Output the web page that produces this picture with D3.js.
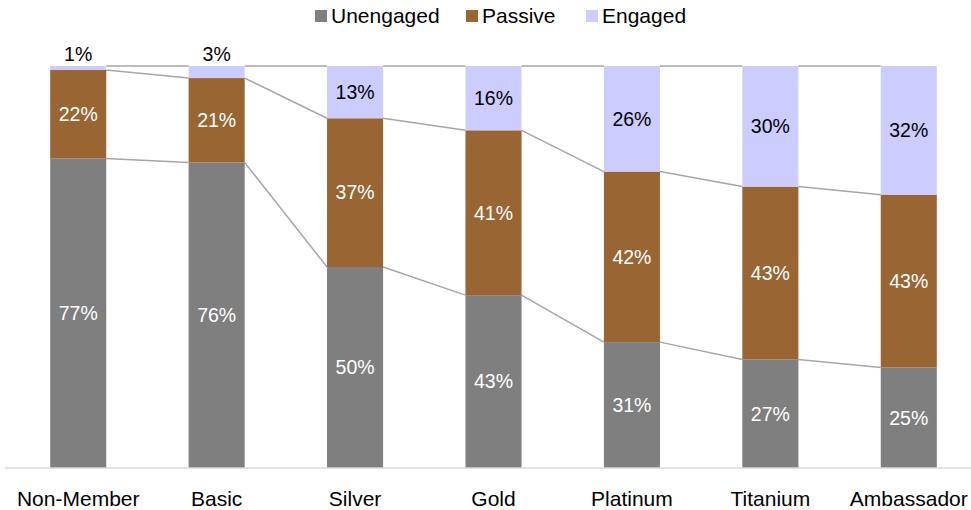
<!DOCTYPE html>
<html>
<head>
<meta charset="utf-8">
<script src="https://cdn.jsdelivr.net/npm/d3@7"></script>
<style>
  body { margin: 0; background: #fff; }
  text { font-family: "Liberation Sans", Arial, sans-serif; }
</style>
</head>
<body>
<script>
var categories = ["Non-Member", "Basic", "Silver", "Gold", "Platinum", "Titanium", "Ambassador"];
var seriesNames = ["Unengaged", "Passive", "Engaged"];
var unengaged = [77, 76, 50, 43, 31, 27, 25];
var passive = [22, 21, 37, 41, 42, 43, 43];
var engaged = [1, 3, 13, 16, 26, 30, 32];
var colors = ["#7f7f7f", "#996633", "#ccccff"];
var labelColors = ["#fff", "#fff", "#000"];

var width = 971, height = 510;
var margin = {left: 9, right: -7, top: 66, bottom: 42};

var rows = categories.map(function(c, i){
  return {cat: c, Unengaged: unengaged[i], Passive: passive[i], Engaged: engaged[i]};
});

var stack = d3.stack().keys(seriesNames).offset(d3.stackOffsetExpand);
var layers = stack(rows);

var x = d3.scaleBand()
  .domain(categories)
  .range([margin.left, width - margin.right])
  .paddingInner(0.595)
  .paddingOuter(0.2975);

var y = d3.scaleLinear()
  .domain([0, 1])
  .range([height - margin.bottom, margin.top]);

var svg = d3.select("body").append("svg")
  .attr("width", width).attr("height", height);

// series lines between bars
var lineG = svg.append("g");
layers.forEach(function(layer){
  for (var i = 0; i < layer.length - 1; i++){
    lineG.append("line")
      .attr("x1", x(categories[i]) + x.bandwidth())
      .attr("x2", x(categories[i + 1]))
      .attr("y1", y(layer[i][1]))
      .attr("y2", y(layer[i + 1][1]))
      .attr("stroke", "#a6a6a6")
      .attr("stroke-width", 1.5);
  }
});

// bars
layers.forEach(function(layer, k){
  svg.append("g").selectAll("rect")
    .data(layer)
    .enter().append("rect")
    .attr("x", function(d){ return x(d.data.cat); })
    .attr("y", function(d){ return y(d[1]); })
    .attr("width", x.bandwidth())
    .attr("height", function(d){ return y(d[0]) - y(d[1]); })
    .attr("fill", colors[k]);
});

// value labels
layers.forEach(function(layer, k){
  svg.append("g").selectAll("text")
    .data(layer)
    .enter().append("text")
    .attr("x", function(d){ return x(d.data.cat) + x.bandwidth() / 2; })
    .attr("y", function(d){
      var h = y(d[0]) - y(d[1]);
      if (h < 20) return y(d[1]) - 5;
      return (y(d[0]) + y(d[1])) / 2;
    })
    .attr("dy", function(d){ return (y(d[0]) - y(d[1])) < 20 ? "0" : "0.35em"; })
    .attr("text-anchor", "middle")
    .attr("font-size", "19.5px")
    .attr("fill", labelColors[k])
    .text(function(d){ return d.data[seriesNames[k]] + "%"; });
});

// x axis
var xAxis = d3.axisBottom(x).tickSize(0).tickPadding(23);
var axisG = svg.append("g")
  .attr("transform", "translate(0," + y(0) + ")")
  .call(xAxis);
axisG.select(".domain").remove();
axisG.append("line")
  .attr("x1", 5).attr("x2", width)
  .attr("stroke", "#d9d9d9").attr("stroke-width", 1.5);
axisG.selectAll("text")
  .attr("font-size", "21px")
  .attr("font-family", "Liberation Sans, Arial, sans-serif")
  .attr("fill", "#000");

// legend
var legendX = [315, 466, 586];
var legend = svg.append("g");
seriesNames.forEach(function(s, k){
  legend.append("rect")
    .attr("x", legendX[k]).attr("y", 10)
    .attr("width", 12).attr("height", 12)
    .attr("fill", colors[k]);
  legend.append("text")
    .attr("x", legendX[k] + 16).attr("y", 16)
    .attr("dy", "0.35em")
    .attr("font-size", "21px")
    .attr("fill", "#000")
    .text(s);
});
</script>
</body>
</html>
